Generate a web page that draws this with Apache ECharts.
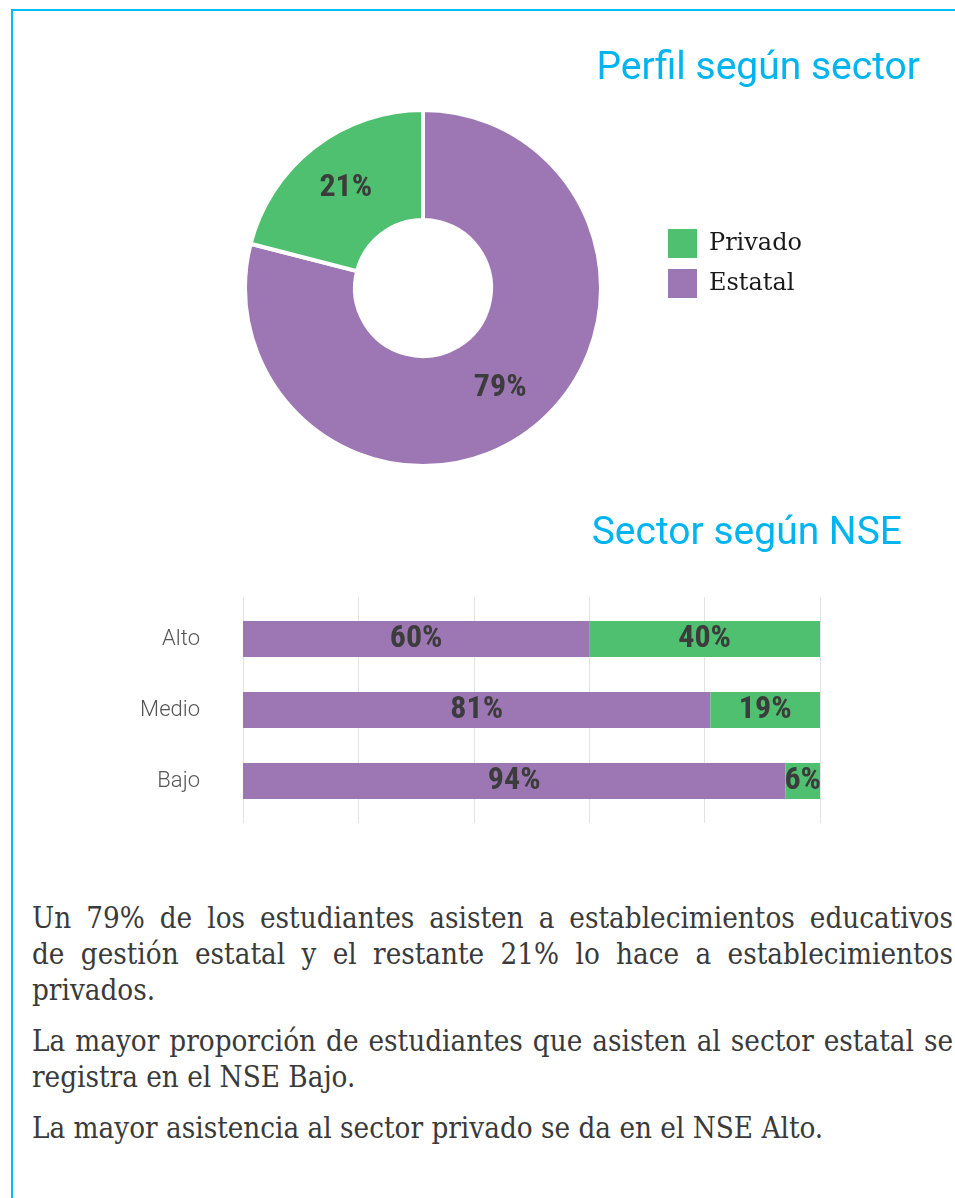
<!DOCTYPE html>
<html>
<head>
<meta charset="utf-8">
<script src="https://cdn.jsdelivr.net/npm/echarts/dist/echarts.min.js"></script>
<style>
  html, body { margin: 0; padding: 0; background: #fff; }
  body { width: 955px; height: 1198px; position: relative; overflow: hidden; }
  #frame { position: absolute; left: 11px; top: 9px; right: -10px; bottom: -10px;
           border-left: 2.5px solid #00BDF2; border-top: 2.5px solid #00BDF2; }
  #chart { position: absolute; left: 0; top: 0; width: 955px; height: 880px; }
  #text { position: absolute; left: 32px; top: 900px; width: 921px;
          font-family: "DejaVu Serif", serif; font-stretch: condensed; font-weight: 300;
          font-size: 29.3px; line-height: 36px; color: #3a3a3a; }
  #text p { margin: 0 0 15px 0; }
  #text .j { display: block; text-align: justify; text-align-last: justify; white-space: nowrap; }
  #text .l { display: block; white-space: nowrap; }
</style>
</head>
<body>
<div id="frame"></div>
<div id="chart"></div>
<div id="text">
  <p><span class="j">Un 79% de los estudiantes asisten a establecimientos educativos</span><span class="j">de gestión estatal y el restante 21% lo hace a establecimientos</span><span class="l">privados.</span></p>
  <p><span class="j">La mayor proporción de estudiantes que asisten al sector estatal se</span><span class="l">registra en el NSE Bajo.</span></p>
  <p><span class="l">La mayor asistencia al sector privado se da en el NSE Alto.</span></p>
</div>
<script>
// ---- data ----
const pieNames = ['Estatal', 'Privado'];
const pieValues = [79, 21];
const legendItems = ['Privado', 'Estatal'];
const levels = ['Alto', 'Medio', 'Bajo'];
const estatalByNSE = [60, 81, 94];
const privadoByNSE = [40, 19, 6];
const title1 = 'Perfil según sector';
const title2 = 'Sector según NSE';

// ---- styles ----
const PURPLE = '#9D77B3';
const GREEN = '#4FBF70';
const CYAN = '#00B5EF';
const LABEL_FONT = '"Liberation Sans Narrow", "Roboto Condensed", "DejaVu Sans Condensed", Roboto, sans-serif';
const labelStyle = { fontFamily: LABEL_FONT, fontWeight: 'bold', fontSize: 32, color: '#3C3C3C' };

const colorOf = { 'Estatal': PURPLE, 'Privado': GREEN };

const chart = echarts.init(document.getElementById('chart'), null, { renderer: 'canvas' });
chart.setOption({
  animation: false,
  color: [PURPLE, GREEN],
  title: [
    { text: title1, right: 30, top: 45,
      textStyle: { color: CYAN, fontFamily: 'Roboto, sans-serif', fontWeight: 400, fontSize: 39 } },
    { text: title2, right: 48, top: 510,
      textStyle: { color: CYAN, fontFamily: 'Roboto, sans-serif', fontWeight: 400, fontSize: 39 } }
  ],
  legend: {
    data: legendItems.map(n => ({ name: n, itemStyle: { color: colorOf[n] } })),
    orient: 'vertical', left: 663, top: 224,
    icon: 'rect', itemWidth: 29, itemHeight: 29, itemGap: 11,
    selectedMode: false,
    textStyle: { fontFamily: '"DejaVu Serif", serif', fontSize: 24, color: '#1a1a1a', padding: [0, 0, 0, 7] }
  },
  grid: [
    { left: 243, right: 135, top: 597, height: 226, containLabel: false },
    { left: 243, right: 135, top: 603.5, height: 213, containLabel: false }
  ],
  xAxis: [
    { gridIndex: 0, type: 'value', min: 0, max: 100, interval: 20,
      axisLine: { show: false }, axisTick: { show: false }, axisLabel: { show: false },
      splitLine: { show: true, lineStyle: { color: '#E3E3E3', width: 1 } } },
    { gridIndex: 1, type: 'value', min: 0, max: 100, interval: 20,
      axisLine: { show: false }, axisTick: { show: false }, axisLabel: { show: false },
      splitLine: { show: false } }
  ],
  yAxis: [
    { gridIndex: 0, type: 'value', show: false },
    { gridIndex: 1, type: 'category', data: levels, inverse: true,
      axisLine: { show: false }, axisTick: { show: false },
      axisLabel: { margin: 43, fontFamily: 'Roboto, sans-serif', fontWeight: 300, fontSize: 22, color: '#555' } }
  ],
  series: [
    {
      type: 'pie', center: [423, 288], radius: [68, 178],
      startAngle: 90, clockwise: true,
      legendHoverLink: false,
      itemStyle: { borderColor: '#fff', borderWidth: 4 },
      label: Object.assign({ show: true, position: 'inside', formatter: '{c}%' }, labelStyle),
      labelLine: { show: false },
      emphasis: { disabled: true },
      data: pieNames.map((n, i) => ({ name: n, value: pieValues[i], itemStyle: { color: colorOf[n] } }))
    },
    {
      name: 'Estatal', type: 'bar', xAxisIndex: 1, yAxisIndex: 1, stack: 'nse',
      barWidth: 36, itemStyle: { color: PURPLE },
      label: Object.assign({ show: true, position: 'inside', formatter: '{c}%' }, labelStyle),
      emphasis: { disabled: true },
      data: estatalByNSE
    },
    {
      name: 'Privado', type: 'bar', xAxisIndex: 1, yAxisIndex: 1, stack: 'nse',
      barWidth: 36, itemStyle: { color: GREEN },
      label: Object.assign({ show: true, position: 'inside', formatter: '{c}%' }, labelStyle),
      emphasis: { disabled: true },
      data: privadoByNSE
    }
  ]
});
</script>
</body>
</html>
